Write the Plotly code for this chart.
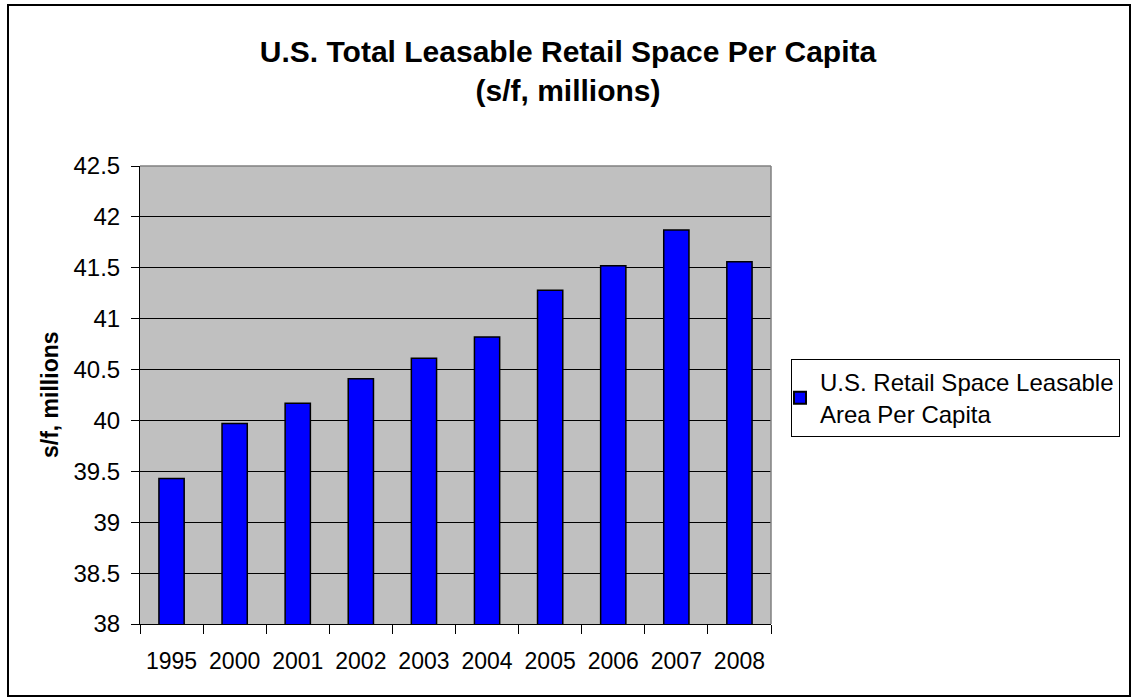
import plotly.graph_objects as go

years = ["1995", "2000", "2001", "2002", "2003", "2004", "2005", "2006", "2007", "2008"]
retail_space = [39.43, 39.97, 40.17, 40.41, 40.61, 40.82, 41.28, 41.52, 41.87, 41.56]
y_ticks = [38, 38.5, 39, 39.5, 40, 40.5, 41, 41.5, 42, 42.5]
y_tick_labels = ["38", "38.5", "39", "39.5", "40", "40.5", "41", "41.5", "42", "42.5"]

title_text = "U.S. Total Leasable Retail Space Per Capita<br>(s/f, millions)"
series_name = "U.S. Retail Space Leasable<br>Area Per Capita"
y_title = "s/f, millions"

W, H = 1134, 698
L, R, T, B = 140, 771, 166, 624
FONT = "Liberation Sans, Arial, sans-serif"

fig = go.Figure()
fig.add_trace(go.Bar(
    x=years, y=retail_space, name=series_name,
    marker=dict(color="#0000FF", line=dict(color="#000000", width=1.5)),
    showlegend=True,
))

def px_x(p):
    return (p - L) / (R - L)

def px_y(p):
    return (B - p) / (B - T)

fig.update_layout(
    width=W, height=H, autosize=False,
    margin=dict(l=L, r=W - R, t=T, b=H - B, pad=0),
    paper_bgcolor="white", plot_bgcolor="#C0C0C0",
    bargap=0.6,
    font=dict(family=FONT, size=23, color="black"),
    title=dict(text="<b>" + title_text + "</b>", x=568 / W, xanchor="center",
               y=1 - 62 / H, yanchor="top", yref="container",
               font=dict(family=FONT, size=30, color="black")),
    xaxis=dict(type="category", showline=True, linecolor="black", linewidth=1,
               ticks="outside", ticklen=9, tickcolor="black", tickson="boundaries",
               ticklabelstandoff=16, showgrid=False,
               tickfont=dict(family=FONT, size=23, color="black")),
    yaxis=dict(range=[38, 42.5], tickvals=y_ticks, ticktext=y_tick_labels,
               showline=True, linecolor="black", linewidth=1,
               ticks="outside", ticklen=8, tickcolor="black",
               ticklabelstandoff=6,
               showgrid=True, gridcolor="black", gridwidth=1, zeroline=False,
               tickfont=dict(family=FONT, size=24, color="black")),
    legend=dict(x=px_x(791), y=px_y(359), xanchor="left", yanchor="top",
                bordercolor="black", borderwidth=1, bgcolor="white",
                font=dict(family=FONT, size=24, color="black"),
                itemsizing="constant", indentation=-12),
    annotations=[dict(text="<b>" + y_title + "</b>", textangle=-90,
                      x=px_x(50), y=0.5, xref="paper", yref="paper",
                      xanchor="center", yanchor="middle", showarrow=False,
                      font=dict(family=FONT, size=23, color="black"))],
    shapes=[
        dict(type="line", xref="paper", yref="paper", x0=0, x1=1, y0=1, y1=1,
             line=dict(color="#808080", width=1.5)),
        dict(type="line", xref="paper", yref="paper", x0=1, x1=1, y0=0, y1=1,
             line=dict(color="#808080", width=1.5)),
        dict(type="rect", xref="paper", yref="paper",
             x0=px_x(8), x1=px_x(1130), y0=px_y(696), y1=px_y(5),
             line=dict(color="black", width=2), fillcolor="rgba(0,0,0,0)"),
    ],
)

fig.write_html("out.html")
